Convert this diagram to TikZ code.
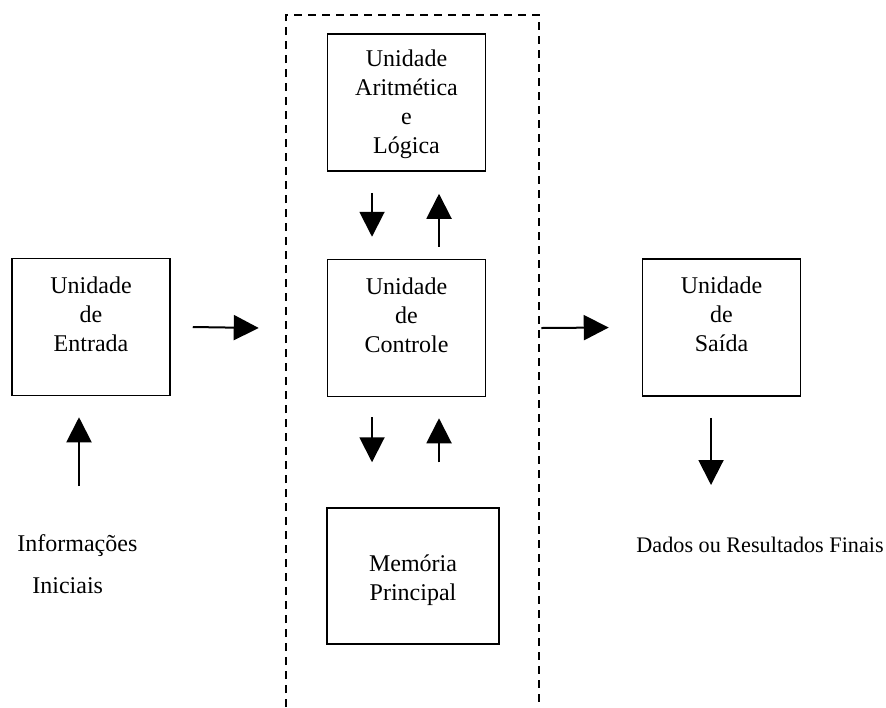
\documentclass[tikz,border=0pt]{standalone}
\usepackage{fontspec}
\setmainfont{Liberation Serif}
\usetikzlibrary{arrows.meta,positioning}

\begin{document}
\begin{tikzpicture}[x=0.5pt,y=-0.5pt,
    font=\fontsize{12}{14.4}\selectfont,
    unit/.style={draw,line width=0.75pt,minimum width=79pt,minimum height=68.5pt,inner sep=0pt},
    unittext/.style={align=center,inner sep=0pt},
    flow/.style={-{Triangle[length=12.5pt,width=12.5pt]},line width=1pt}]
    \useasboundingbox (0,0) rectangle (886,707);

    % CPU frame (open at the bottom)
    \draw[dash pattern=on 4pt off 3pt,line width=1pt] (286,707) -- (286,15) -- (539,15) -- (539,707);

    % Boxes
    \node[unit] (entrada) at (91,327) {};
    \node[unittext,below=9.3pt of entrada.north] (entrada-txt) {Unidade\\de\\Entrada};

    \node[unit] (ula) at (406.5,102.5) {};
    \node[unittext,below=8.3pt of ula.north] (ula-txt) {Unidade\\Aritmética\\e\\Lógica};

    \node[unit] (controle) at (406.5,328) {};
    \node[unittext,below=9.3pt of controle.north] (controle-txt) {Unidade\\de\\Controle};

    \node[unit,minimum width=86pt,minimum height=68pt] (memoria) at (413,576) {};
    \node[unittext,below=23.8pt of memoria.north] (memoria-txt) {Memória\\Principal};

    \node[unit] (saida) at (721.5,327.5) {};
    \node[unittext,below=9.3pt of saida.north] (saida-txt) {Unidade\\de\\Saída};

    % Outside texts
    \node[anchor=base west,inner sep=0pt] (info1) at (17,551) {Informações};
    \node[anchor=base west,inner sep=0pt] (info2) at (32,593) {Iniciais};
    \node[anchor=base west,inner sep=0pt,font=\fontsize{11.1}{13}\selectfont] (dados) at (636,552) {Dados ou Resultados Finais};

    % Flow between units
    \draw[flow] ([shift={(22,0)}]entrada.east) -- ([shift={(-68,0)}]controle.west);
    \draw[flow] ([shift={(55,0)}]controle.east) -- ([shift={(-33,0)}]saida.west);

    \draw[flow] ([shift={(-34.5,21)}]ula.south) -- ([shift={(-34.5,-22)}]controle.north);
    \draw[flow] ([shift={(32.5,-12)}]controle.north) -- ([shift={(32.5,22)}]ula.south);

    \draw[flow] ([shift={(-34.5,20)}]controle.south) -- ([shift={(-41,-45)}]memoria.north);
    \draw[flow] ([shift={(26,-45)}]memoria.north) -- ([shift={(32.5,21)}]controle.south);

    % Input and output
    \coordinate (entra) at (79,486);
    \draw[flow] (entra) -- ([shift={(-12,21)}]entrada.south);
    \coordinate (sai) at (711,485);
    \draw[flow] ([shift={(-10.5,21)}]saida.south) -- (sai);
\end{tikzpicture}
\end{document}
